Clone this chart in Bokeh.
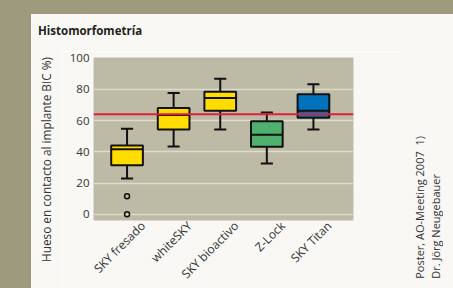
import math
from bokeh.plotting import figure
from bokeh.models import Range1d, FixedTicker, Span, Div, ColumnDataSource, LinearAxis
from bokeh.layouts import row, column
from bokeh.embed import file_html
from bokeh.resources import INLINE

# ---- data ----
categories = ["SKY fresado", "whiteSKY", "SKY bioactivo", "Z-Lock", "SKY Titan"]
lower_whisker = [22.9, 43.4, 54.3, 32.5, 54.3]
q1 = [31.4, 54.3, 66.3, 43.2, 61.8]
median = [41.7, 63.5, 74.4, 50.9, 66.3]
q3 = [44.0, 68.0, 78.4, 59.6, 76.9]
upper_whisker = [54.7, 77.6, 86.8, 65.2, 83.3]
box_colors = ["#ffdd00", "#ffdd00", "#ffdd00", "#50b06e", "#0072bb"]
outlier_category = ["SKY fresado", "SKY fresado"]
outlier_values = [11.6, 0.0]
reference_line = 64
y_ticks = [0, 20, 40, 60, 80, 100]
grid_ticks = [0, 20, 40, 60, 80]

title_text = "Histomorfometría"
y_title = "Hueso en contacto al implante BIC %)"
note_lines = ["Poster, AO-Meeting 2007&nbsp;&nbsp;1)", "Dr. Jörg Neugebauer"]

OLIVE = "#9d9a7d"
PANEL = "#f9f8f4"
PLOTBG = "#bdbba6"
GRID = "#dedccb"
TXT = "#333333"
FONT = "Open Sans"

xs = [i + 1 for i in range(len(categories))]
xpos = {c: i + 1 for i, c in enumerate(categories)}
bw = 0.68
cw = 0.26

src = ColumnDataSource(dict(
    x=xs, lo=lower_whisker, q1=q1, med=median, q3=q3, hi=upper_whisker,
    color=box_colors,
    bl=[x - bw / 2 for x in xs], br=[x + bw / 2 for x in xs],
    cl=[x - cw / 2 for x in xs], cr=[x + cw / 2 for x in xs],
))

X0, X1 = 0.28, 5.86
LABEL_SHIFT = 0.34   # rotated category labels sit a little right of their box
p = figure(frame_width=260, frame_height=163, output_backend="svg", toolbar_location=None,
           x_range=Range1d(X0, X1), y_range=Range1d(-4.0, 100.4), x_axis_type=None,
           min_border_left=31, min_border_right=50, min_border_top=6, min_border_bottom=68)
p.background_fill_color = PLOTBG
p.border_fill_color = PANEL
p.outline_line_color = None
p.extra_x_ranges = {"lab": Range1d(X0 - LABEL_SHIFT, X1 - LABEL_SHIFT)}

# grid
p.ygrid.ticker = FixedTicker(ticks=grid_ticks)
p.ygrid.grid_line_color = GRID
p.ygrid.grid_line_width = 1.5

# whiskers
p.segment(x0="x", y0="q3", x1="x", y1="hi", source=src, line_color="#111111", line_width=2)
p.segment(x0="x", y0="lo", x1="x", y1="q1", source=src, line_color="#111111", line_width=2)
p.segment(x0="cl", y0="hi", x1="cr", y1="hi", source=src, line_color="#111111", line_width=2)
p.segment(x0="cl", y0="lo", x1="cr", y1="lo", source=src, line_color="#111111", line_width=2)
# boxes
p.vbar(x="x", width=bw, bottom="q1", top="q3", source=src, fill_color="color",
       line_color="#111111", line_width=2)
p.segment(x0="bl", y0="med", x1="br", y1="med", source=src, line_color="#111111", line_width=2)
# outliers
p.scatter([xpos[c] for c in outlier_category], outlier_values, size=5, fill_color=None,
          line_color="#111111", line_width=1.5)

p.add_layout(Span(location=reference_line, dimension="width", line_color="#e0203a", line_width=2))

# axes
xaxis = LinearAxis(x_range_name="lab")
p.add_layout(xaxis, "below")
for ax in (xaxis, p.yaxis[0]):
    ax.axis_line_color = None
    ax.major_tick_line_color = None
    ax.minor_tick_line_color = None
    ax.major_tick_out = 0
    ax.major_tick_in = 0
    ax.minor_tick_out = 0
    ax.minor_tick_in = 0
    ax.major_label_text_font = FONT
    ax.major_label_text_color = TXT
    ax.major_label_standoff = 4

p.yaxis.ticker = FixedTicker(ticks=y_ticks)
p.yaxis.major_label_text_font_size = "11.5px"

xaxis.ticker = FixedTicker(ticks=xs)
xaxis.major_label_overrides = {x: c for x, c in zip(xs, categories)}
xaxis.major_label_orientation = math.pi / 4
xaxis.major_label_text_font_size = "12px"
xaxis.major_label_standoff = 3

# ---- surrounding texts ----
title_div = Div(
    text=('<div style="padding:8.5px 0 0 7px;font-family:\'Open Sans\';font-size:11.5px;'
          'font-weight:bold;line-height:16px;color:#222222;white-space:nowrap;">'
          + title_text + '</div>'),
    width=422, height=37, margin=0, styles={"background-color": PANEL})

def vertical_text(lines, width, height, left, bottom, size):
    return Div(
        text=('<div style="display:flex;flex-direction:column;justify-content:flex-end;'
              'height:%dpx;">' % height
              + '<div style="align-self:flex-start;writing-mode:vertical-rl;'
              'transform:rotate(180deg);margin:0 0 %spx %spx;font-family:\'Open Sans\';'
              'font-size:%spx;line-height:16px;color:#333333;white-space:nowrap;">'
              % (bottom, left, size)
              + "<br>".join(lines) + '</div></div>'),
        width=width, height=height, margin=0, styles={"background-color": PANEL})

ytitle_div = vertical_text([y_title], 31, 237, 7, 26, 11.8)
notes_div = vertical_text(note_lines, 50, 237, 8.5, 9, 11)

left_strip = Div(text="", width=31, height=288, margin=0,
                 styles={"background-color": OLIVE})
top_strip = Div(text="", width=422, height=14, margin=0,
                styles={"background-color": OLIVE})
layout = row(left_strip,
             column(top_strip, title_div,
                    row(ytitle_div, p, notes_div, spacing=0), spacing=0),
             spacing=0)

open("out.html", "w").write(file_html(layout, INLINE))
